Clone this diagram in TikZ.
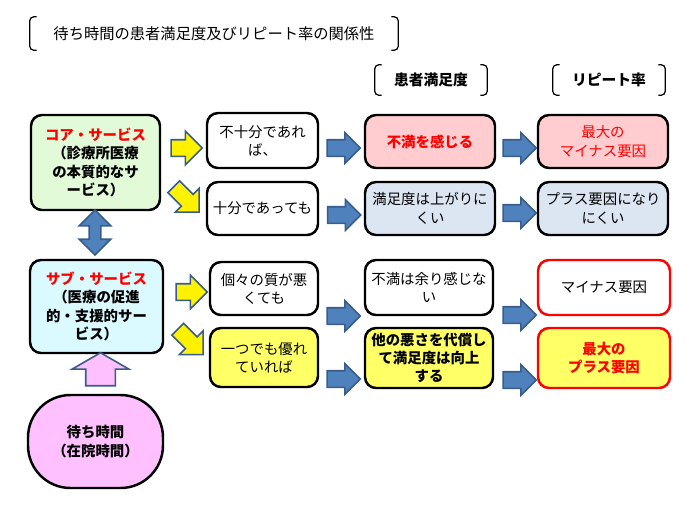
\documentclass[tikz,border=0pt]{standalone}
\usepackage{fontspec}
\setmainfont{Noto Sans CJK JP}
\usetikzlibrary{shapes.arrows}
\definecolor{coregreen}{RGB}{226,250,216}
\definecolor{subcyan}{RGB}{218,250,255}
\definecolor{waitpink}{RGB}{255,192,255}
\definecolor{badpink}{RGB}{255,204,208}
\definecolor{grayblue}{RGB}{220,230,242}
\definecolor{lightyel}{RGB}{255,255,102}
\definecolor{arrblue}{RGB}{79,129,189}
\definecolor{arredge}{RGB}{56,93,138}
\definecolor{hotred}{RGB}{255,0,0}
\tikzset{
  box/.style={draw, line width=1.4pt, rounded corners=0.22cm, align=center,
    inner sep=1pt, font=\fontsize{8.2}{10.4}\selectfont},
  hdr/.style={inner sep=0pt, font=\fontsize{8.4}{10.4}\selectfont\bfseries},
  brk/.style={line width=0.7pt, rounded corners=2.5pt},
  yarrow/.style={single arrow, draw=arredge, fill=yellow, line width=0.9pt,
    inner xsep=0pt, inner ysep=0.15cm, minimum height=0.62cm,
    single arrow head extend=0.17cm},
  barrow/.style={single arrow, draw=arredge, fill=arrblue, line width=0.9pt,
    inner xsep=0pt, inner ysep=0.15cm, minimum height=0.66cm,
    single arrow head extend=0.14cm},
}
\begin{document}
\begin{tikzpicture}
\useasboundingbox (0,0) rectangle (14,-10.12);
% headings
\node[hdr, font=\fontsize{8.7}{10.4}\selectfont, minimum width=7.36cm, minimum height=0.66cm] (title) at (4.28,-0.67) {待ち時間の患者満足度及びリピート率の関係性};
\node[hdr, minimum width=2.24cm, minimum height=0.6cm] (hsat) at (8.62,-1.6) {患者満足度};
\node[hdr, minimum width=2.24cm, minimum height=0.6cm] (hrep) at (12.18,-1.6) {リピート率};
\foreach \h in {title,hsat,hrep}{
  \draw[brk] ([xshift=4pt]\h.north west) -- (\h.north west) -- (\h.south west) -- ([xshift=4pt]\h.south west);
  \draw[brk] ([xshift=-4pt]\h.north east) -- (\h.north east) -- (\h.south east) -- ([xshift=-4pt]\h.south east);
}
% left column
\node[box, fill=coregreen, minimum width=2.58cm, minimum height=1.9cm, font=\fontsize{8.2}{10.4}\selectfont\bfseries] (core) at (1.91,-3.25)
  {\textcolor{hotred}{コア・サービス}\\（診療所医療\\の本質的なサ\\ービス）};
\node[box, fill=subcyan, minimum width=2.66cm, minimum height=1.86cm, font=\fontsize{8.2}{10.4}\selectfont\bfseries] (sub) at (1.93,-6.13)
  {\textcolor{hotred}{サブ・サービス}\\（医療の促進\\的・支援的サー\\ビス）};
\node[box, fill=waitpink, rounded corners=0.85cm, minimum width=2.7cm, minimum height=1.86cm, font=\fontsize{8.2}{10.4}\selectfont\bfseries] (wait) at (1.91,-8.83)
  {待ち時間\\（在院時間）};
\node[double arrow, rotate=90, draw=arredge, fill=arrblue, line width=0.9pt, inner xsep=0pt, inner ysep=0.1cm,
  minimum height=0.9cm, double arrow head extend=0.2cm] (link) at (1.9,-4.65) {};
\node[single arrow, rotate=90, draw=arredge, fill=waitpink, line width=0.9pt, inner xsep=0pt, inner ysep=0.28cm,
  minimum height=0.66cm, single arrow head extend=0.27cm, single arrow tip angle=120] (push) at (2.01,-7.47) {};
% yellow arrows
\node[yarrow] (ya1) at (3.65,-2.96) {};
\node[yarrow, rotate=-45, minimum height=0.72cm] (ya2) at (3.67,-3.93) {};
\node[yarrow] (ya3) at (3.75,-5.84) {};
\node[yarrow, rotate=-45, minimum height=0.72cm] (ya4) at (3.75,-6.78) {};
% quality column
\node[box, fill=white, minimum width=2.22cm, minimum height=1.1cm] (q1) at (5.25,-2.81) {不十分であれ\\ば、};
\node[box, fill=white, minimum width=2.22cm, minimum height=1.06cm] (q2) at (5.25,-4.17) {十分であっても};
\node[box, fill=white, minimum width=2.16cm, minimum height=1.06cm] (q3) at (5.28,-5.77) {個々の質が悪\\くても};
\node[box, fill=lightyel, minimum width=2.16cm, minimum height=1.18cm] (q4) at (5.28,-7.15) {一つでも優れ\\ていれば};
% satisfaction column
\node[box, fill=badpink, text=hotred, minimum width=2.6cm, minimum height=1.06cm, font=\fontsize{8.2}{10.4}\selectfont\bfseries] (s1) at (8.6,-2.83) {不満を感じる};
\node[box, fill=grayblue, minimum width=2.6cm, minimum height=1.06cm] (s2) at (8.6,-4.17) {満足度は上がりに\\くい};
\node[box, fill=white, minimum width=2.56cm, minimum height=1.1cm] (s3) at (8.58,-5.75) {不満は余り感じな\\い};
\node[box, fill=lightyel, minimum width=2.56cm, minimum height=1.2cm, font=\fontsize{8.2}{10.4}\selectfont\bfseries] (s4) at (8.58,-7.16) {他の悪さを代償し\\て満足度は向上\\する};
% repeat column
\node[box, fill=badpink, text=hotred, minimum width=2.6cm, minimum height=1.06cm] (r1) at (12.06,-2.83) {最大の\\マイナス要因};
\node[box, fill=grayblue, minimum width=2.6cm, minimum height=1.06cm] (r2) at (12.06,-4.17) {プラス要因になり\\にくい};
\node[box, draw=hotred, fill=white, minimum width=2.64cm, minimum height=1.1cm] (r3) at (12.08,-5.75) {マイナス要因};
\node[box, draw=hotred, fill=lightyel, text=hotred, minimum width=2.64cm, minimum height=1.2cm, font=\fontsize{8.2}{10.4}\selectfont\bfseries] (r4) at (12.08,-7.16) {最大の\\プラス要因};
% blue arrows
\node[barrow] (ba1) at (6.79,-2.96) {};
\node[barrow] (ba2) at (6.8,-4.3) {};
\node[barrow] (ba3) at (6.79,-6.32) {};
\node[barrow] (ba4) at (6.79,-7.58) {};
\node[barrow] (bb1) at (10.31,-2.96) {};
\node[barrow] (bb2) at (10.31,-4.26) {};
\node[barrow] (bb3) at (10.31,-6.3) {};
\node[barrow] (bb4) at (10.31,-7.6) {};
\end{tikzpicture}
\end{document}
